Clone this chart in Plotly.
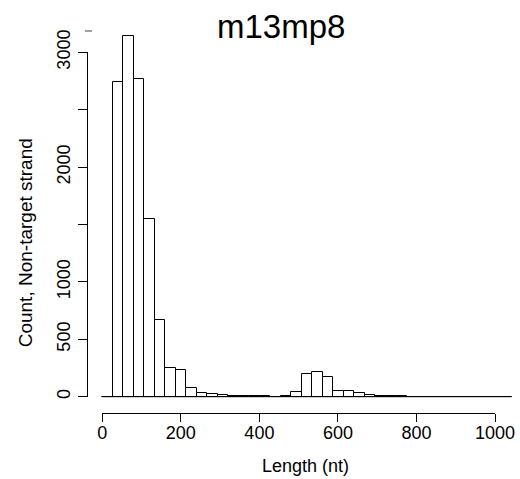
import plotly.graph_objects as go

# ---- data ----
bin_width = 26.72          # histogram bin width (nt); bins start at 0
counts = [0, 2738, 3144, 2770, 1546, 670, 253, 230, 73, 30,
          22, 14, 8, 3, 5, 6, 1, 8, 44, 194,
          215, 171, 54, 51, 30, 11, 8, 2, 6, 0,
          0, 0, 0, 0, 0, 0, 0, 0, 0]
x_ticks = [0, 200, 400, 600, 800, 1000]
y_ticks = [0, 500, 1000, 1500, 2000, 2500, 3000]
y_ticktext = ["0", "500", "1000", "", "2000", "", "3000"]
title = "m13mp8"
x_title = "Length (nt)"
y_title = "Count, Non-target strand"

centers = [(i + 0.5) * bin_width for i in range(len(counts))]
x_end = len(counts) * bin_width

W, H = 520, 479
FONT = "Liberation Sans, Arial, Helvetica, sans-serif"

# visible axis geometry (pixels)
x0_px, x1000_px, xaxis_y_px = 102.3, 495.0, 412.7
y0_px, y3000_px, yaxis_x_px = 396.7, 52.3, 86.7

xd0, xd1 = x0_px / W, x1000_px / W
yd0, yd1 = 1 - y0_px / H, 1 - y3000_px / H
xs = 1000 / (xd1 - xd0)
ys = 3000 / (yd1 - yd0)
main_xrange = [-xd0 * xs, 1000 + (1 - xd1) * xs]
main_yrange = [-yd0 * ys, 3000 + (1 - yd1) * ys]

fig = go.Figure()
fig.add_trace(go.Bar(
    x=centers, y=counts, width=bin_width,
    marker=dict(color="white", line=dict(color="black", width=1)),
    xaxis="x", yaxis="y", showlegend=False, hoverinfo="skip"))
fig.add_trace(go.Scatter(
    x=[0], y=[0], xaxis="x2", yaxis="y2", mode="markers",
    marker=dict(opacity=0), showlegend=False, hoverinfo="skip"))

# baseline drawn by zero-height bins
fig.add_shape(type="line", xref="x", yref="y", x0=0, x1=x_end, y0=0, y1=0,
              line=dict(color="black", width=1))
# stray tick mark at top-left
fig.add_shape(type="line", xref="paper", yref="paper",
              x0=85 / W, x1=92 / W, y0=1 - 31 / H, y1=1 - 31 / H,
              line=dict(color="#444", width=1))

axis_common = dict(showline=True, linecolor="black", linewidth=1,
                   ticks="outside", tickcolor="black", tickwidth=1,
                   showgrid=False, zeroline=False, automargin=False,
                   tickfont=dict(family=FONT, size=18, color="black"))

fig.update_layout(
    width=W, height=H, margin=dict(l=0, r=0, t=0, b=0, pad=0),
    paper_bgcolor="white", plot_bgcolor="rgba(0,0,0,0)",
    font=dict(family=FONT, color="black"),
    bargap=0,
    xaxis=dict(domain=[0, 1], range=main_xrange, visible=False,
               automargin=False),
    yaxis=dict(domain=[0, 1], range=main_yrange, visible=False,
               automargin=False),
    xaxis2=dict(domain=[xd0, xd1], range=[0, 1000], anchor="free",
                position=1 - xaxis_y_px / H, tickvals=x_ticks, ticklen=8,
                ticklabelstandoff=-4, **axis_common),
    yaxis2=dict(domain=[yd0, yd1], range=[0, 3000], anchor="free",
                position=yaxis_x_px / W, tickvals=y_ticks,
                ticktext=y_ticktext, ticklen=9, tickangle=-90,
                ticklabelstandoff=1, **axis_common),
    annotations=[
        dict(text=title, xref="paper", yref="paper", x=280.8 / W,
             y=1 - 26.7 / H, xanchor="center", yanchor="middle",
             showarrow=False, font=dict(family=FONT, size=33, color="black")),
        dict(text=x_title, xref="paper", yref="paper", x=305.5 / W,
             y=1 - 465.5 / H, xanchor="center", yanchor="middle",
             showarrow=False, font=dict(family=FONT, size=18, color="black")),
        dict(text=y_title, xref="paper", yref="paper", x=25 / W,
             y=1 - 243.3 / H, xanchor="center", yanchor="middle",
             textangle=-90, showarrow=False,
             font=dict(family=FONT, size=19, color="black")),
    ],
)

fig.write_html(
    "out.html",
    config={"displayModeBar": False},
    post_script="document.body.style.margin='0';"
                "document.body.style.overflow='hidden';")
